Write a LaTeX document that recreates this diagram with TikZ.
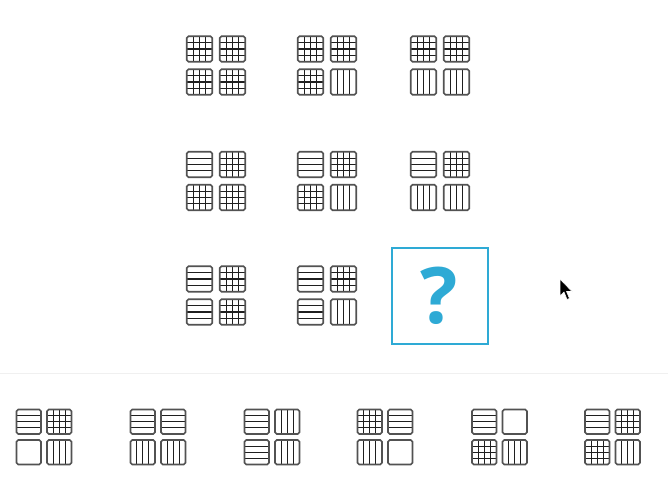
\documentclass[tikz,border=0pt]{standalone}
\usepackage{fontspec}
\newfontfamily\qfont{Open Sans}
\definecolor{qblue}{HTML}{2EAAD5}
\tikzset{
  cellframe/.style={draw=black!68, line width=1.6pt, rounded corners=1.8pt},
  cellline/.style={draw=black!88, line width=1.05pt},
}
\newcommand\cellH[3]{\foreach \k in {1,2,3}{\draw[cellline] (#1,#2+\k*#3/4) -- ++(#3,0);}}
\newcommand\cellV[3]{\foreach \k in {1,2,3}{\draw[cellline] (#1+\k*#3/4,#2) -- ++(0,#3);}}
\newcommand\cellG[3]{\cellH{#1}{#2}{#3}\cellV{#1}{#2}{#3}}
\newcommand\cellE[3]{}
\newcommand\onecell[4]{\csname cell#4\endcsname{#1}{#2}{#3}\draw[cellframe] (#1,#2) rectangle ++(#3,#3);}
% \fig{cx}{cy}{size}{gap}{TL}{TR}{BL}{BR}
\newcommand\fig[8]{%
  \pgfmathsetmacro\xa{#1-#3-#4/2}\pgfmathsetmacro\xb{#1+#4/2}%
  \pgfmathsetmacro\ya{#2-#3-#4/2}\pgfmathsetmacro\yb{#2+#4/2}%
  \onecell{\xa}{\ya}{#3}{#5}\onecell{\xb}{\ya}{#3}{#6}%
  \onecell{\xa}{\yb}{#3}{#7}\onecell{\xb}{\yb}{#3}{#8}}
\begin{document}
\begin{tikzpicture}[x=1pt,y=-1pt]
\useasboundingbox[fill=white] (0,0) rectangle (668,496);
% matrix
\fig{216}{65.5}{25.5}{7.5}{G}{G}{G}{G}
\fig{327}{65.5}{25.5}{7.5}{G}{G}{G}{V}
\fig{440}{65.5}{25.5}{7.5}{G}{G}{V}{V}
\fig{216}{181}{25.5}{7.5}{H}{G}{G}{G}
\fig{327}{181}{25.5}{7.5}{H}{G}{G}{V}
\fig{440}{181}{25.5}{7.5}{H}{G}{V}{V}
\fig{216}{295.5}{25.5}{7.5}{H}{G}{H}{G}
\fig{327}{295.5}{25.5}{7.5}{H}{G}{H}{V}
% question box
\node[draw=qblue, line width=2.2pt, minimum size=96pt, inner sep=0pt] (q) at (440,296) {};
\node[text=qblue, font=\qfont\bfseries\fontsize{78}{78}\selectfont, inner sep=0pt] (qm) at (439,296) {?};
% cursor
\filldraw[fill=black, draw=white, line width=0.6pt, line join=round]
  (560,279) -- (560,296) -- (564,292) -- (567,299.5) -- (569.5,298.5) -- (566.5,291.5) -- (572,291.5) -- cycle;
% separator
\draw[draw=black!6, line width=1pt] (0,373) -- (668,373);
% options
\fig{44}{437}{24.5}{6}{H}{G}{E}{V}
\fig{158}{437}{24.5}{6}{H}{H}{V}{V}
\fig{272}{437}{24.5}{6}{H}{V}{H}{V}
\fig{385}{437}{24.5}{6}{G}{H}{V}{E}
\fig{499.5}{437}{24.5}{6}{H}{E}{G}{V}
\fig{612.5}{437}{24.5}{6}{H}{G}{G}{V}
\end{tikzpicture}
\end{document}
